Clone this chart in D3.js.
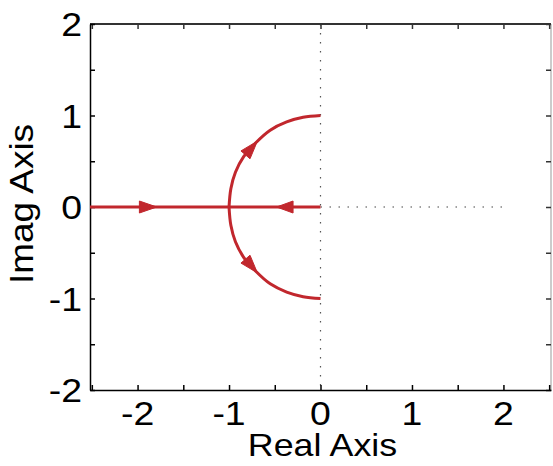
<!DOCTYPE html>
<html>
<head>
<meta charset="utf-8">
<script src="https://cdn.jsdelivr.net/npm/d3@7"></script>
<style>
	body { margin: 0; background: #fff; }
	text { font-family: "Liberation Sans", Arial, sans-serif; fill: #000; }
</style>
</head>
<body>
<svg id="locus"></svg>
<script>
// root locus branches (real, imag)
var leftBranch = [[-2.52, 0], [-1.0, 0]]
var rightBranch = [[0, 0], [-1.0, 0]]
var upperArc = [[-1.0, 0], [-0.98, 0.2], [-0.93, 0.38], [-0.84, 0.55], [-0.71, 0.7], [-0.55, 0.84], [-0.37, 0.93], [-0.19, 0.98], [0, 1.0]]
var lowerArc = [[-1.0, 0], [-0.98, -0.2], [-0.93, -0.38], [-0.84, -0.55], [-0.71, -0.7], [-0.55, -0.84], [-0.37, -0.93], [-0.19, -0.98], [0, -1.0]]

// arrowheads: base point -> tip point
var arrows = [
	{from: [-1.98, 0], to: [-1.79, 0]},
	{from: [-0.30, 0], to: [-0.48, 0]},
	{from: [-0.82, 0.57], to: [-0.69, 0.72]},
	{from: [-0.82, -0.57], to: [-0.69, -0.72]}
]

var xDomain = [-2.52, 2.52]
var yDomain = [-2, 2]
var majorTicks = [-2, -1, 0, 1, 2]
var minorTicks = [-2.5, -2, -1.5, -1, -0.5, 0, 0.5, 1, 1.5, 2, 2.5]
var xLabel = "Real Axis"
var yLabel = "Imag Axis"

var width = 553, height = 466
var margin = ({top: 24, right: 2, bottom: 76, left: 90})
var red = "#c1272d"
// the reference font is drawn a little wider than Liberation Sans
var tickStretch = 1.1
var labelStretch = 1.12

var svg = d3.select("#locus")
	.attr("width", width)
	.attr("height", height)

var x = d3.scaleLinear()
	.domain(xDomain)
	.range([margin.left, width - margin.right])

var y = d3.scaleLinear()
	.domain(yDomain)
	.range([height - margin.bottom, margin.top])

// dotted axes through origin
svg.append("line")
	.attr("x1", x(0)).attr("x2", x(0))
	.attr("y1", y(2)).attr("y2", y(-2))
	.attr("stroke", "#555")
	.attr("stroke-width", 1.2)
	.attr("stroke-dasharray", "1.5,7.5")

svg.append("line")
	.attr("x1", x(0)).attr("x2", x(2))
	.attr("y1", y(0)).attr("y2", y(0))
	.attr("stroke", "#444")
	.attr("stroke-width", 1.2)
	.attr("stroke-dasharray", "1.5,7.5")

// frame
svg.append("line")
	.attr("x1", x.range()[1]).attr("x2", x.range()[1])
	.attr("y1", y.range()[1]).attr("y2", y.range()[0])
	.attr("stroke", "#bbb").attr("stroke-width", 1.5)
svg.append("line")
	.attr("x1", x.range()[0]).attr("x2", x.range()[1])
	.attr("y1", y.range()[1]).attr("y2", y.range()[1])
	.attr("stroke", "#333").attr("stroke-width", 2)

var xAxis = g => g
	.attr("transform", `translate(0,${y.range()[0]})`)
	.call(d3.axisBottom(x).tickValues(minorTicks).tickSize(-5).tickSizeOuter(0).tickFormat(""))
	.call(g => g.selectAll("line,path").attr("stroke", "#000").attr("stroke-width", 1.5))

var xAxisTop = g => g
	.attr("transform", `translate(0,${y.range()[1]})`)
	.call(d3.axisTop(x).tickValues(minorTicks).tickSize(-5).tickSizeOuter(0).tickFormat(""))
	.call(g => g.select(".domain").remove())
	.call(g => g.selectAll("line").attr("stroke", "#333").attr("stroke-width", 1.5))

var yAxis = g => g
	.attr("transform", `translate(${x.range()[0]},0)`)
	.call(d3.axisLeft(y).tickValues(minorTicks.filter(v => v >= -2 && v <= 2)).tickSize(-5).tickSizeOuter(0).tickFormat(""))
	.call(g => g.selectAll("line,path").attr("stroke", "#000").attr("stroke-width", 1.5))

var yAxisRight = g => g
	.attr("transform", `translate(${x.range()[1]},0)`)
	.call(d3.axisRight(y).tickValues(minorTicks.filter(v => v >= -2 && v <= 2)).tickSize(-5).tickSizeOuter(0).tickFormat(""))
	.call(g => g.select(".domain").remove())
	.call(g => g.selectAll("line").attr("stroke", "#333").attr("stroke-width", 1.5))

svg.append("g").call(xAxisTop)
svg.append("g").call(yAxisRight)
svg.append("g").call(xAxis)
svg.append("g").call(yAxis)

// tick labels
svg.append("g").selectAll("text")
	.data(majorTicks)
	.join("text")
	.attr("transform", d => `translate(${x(d)},425) scale(${tickStretch},1)`)
	.attr("text-anchor", "middle")
	.attr("font-size", 34)
	.text(d => d)

svg.append("g").selectAll("text")
	.data(majorTicks)
	.join("text")
	.attr("transform", d => `translate(82,${y(d)}) scale(${tickStretch},1)`)
	.attr("dy", "0.36em")
	.attr("text-anchor", "end")
	.attr("font-size", 34)
	.text(d => d)

svg.append("text")
	.attr("transform", `translate(${x(0) + 2},456) scale(${labelStretch},1)`)
	.attr("text-anchor", "middle")
	.attr("font-size", 32)
	.text(xLabel)

svg.append("text")
	.attr("transform", `translate(33,${y(0) - 3}) rotate(-90) scale(${labelStretch},1)`)
	.attr("text-anchor", "middle")
	.attr("font-size", 33)
	.text(yLabel)

// locus branches
var line = d3.line()
	.x(d => x(d[0]))
	.y(d => y(d[1]))

var arc = d3.line()
	.curve(d3.curveCatmullRom)
	.x(d => x(d[0]))
	.y(d => y(d[1]))

svg.append("g")
	.selectAll("path")
	.data([leftBranch, rightBranch])
	.join("path")
	.attr("fill", "none")
	.attr("stroke", red)
	.attr("stroke-width", 3)
	.attr("d", line)

svg.append("g")
	.selectAll("path")
	.data([upperArc, lowerArc])
	.join("path")
	.attr("fill", "none")
	.attr("stroke", red)
	.attr("stroke-width", 3)
	.attr("d", arc)

// arrowheads
svg.append("g")
	.selectAll("path")
	.data(arrows)
	.join("path")
	.attr("fill", red)
	.attr("stroke", red)
	.attr("stroke-width", 1)
	.attr("d", d => {
		var x0 = x(d.from[0]), y0 = y(d.from[1])
		var x1 = x(d.to[0]), y1 = y(d.to[1])
		var len = Math.hypot(x1 - x0, y1 - y0)
		var ux = (x1 - x0) / len, uy = (y1 - y0) / len
		var hw = 6
		return `M${x1},${y1}L${x0 - uy * hw},${y0 + ux * hw}L${x0 + uy * hw},${y0 - ux * hw}Z`
	})
</script>
</body>
</html>
